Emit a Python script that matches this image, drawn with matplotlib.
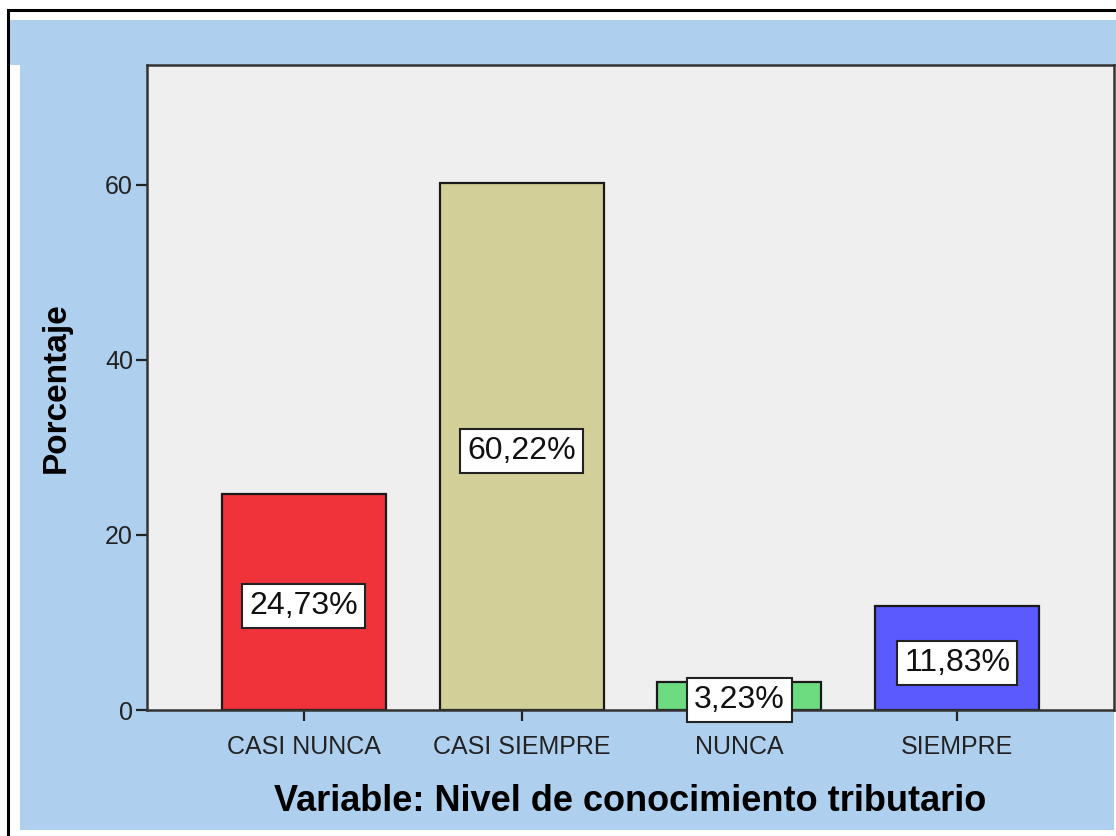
import matplotlib
matplotlib.use("Agg")
import matplotlib.pyplot as plt
from matplotlib.patches import Rectangle
from matplotlib.lines import Line2D

categories = ["CASI NUNCA", "CASI SIEMPRE", "NUNCA", "SIEMPRE"]
values = [24.73, 60.22, 3.23, 11.83]
labels = ["24,73%", "60,22%", "3,23%", "11,83%"]
colors = ["#F0323A", "#D3CF98", "#6DDB80", "#5A5AFF"]
yticks = [0, 20, 40, 60]

plt.rcParams['font.family'] = ['Liberation Sans', 'DejaVu Sans']

W, H = 1116, 836
fig = plt.figure(figsize=(W / 100, H / 100), dpi=100)
fig.patch.set_facecolor("white")

def fx(x):
    return x / W

def fy(y):
    return 1 - y / H

# light blue panel
fig.add_artist(Rectangle((fx(20), fy(830)), fx(1114) - fx(20), fy(20) - fy(830),
                         transform=fig.transFigure, facecolor="#AECFEE", edgecolor="none", zorder=0))
fig.add_artist(Rectangle((fx(10), fy(65)), fx(1116) - fx(10), fy(20) - fy(65),
                         transform=fig.transFigure, facecolor="#AECFEE", edgecolor="none", zorder=0))
# outer border (left and top)
fig.add_artist(Line2D([fx(8), fx(8)], [fy(834), fy(10)], transform=fig.transFigure, color="black", lw=2.2))
fig.add_artist(Line2D([fx(8), fx(1116)], [fy(10), fy(10)], transform=fig.transFigure, color="black", lw=2.2))

ax = fig.add_axes([fx(147), fy(710), fx(1114) - fx(147), fy(65) - fy(710)])
ax.set_facecolor("#EFEFEF")
x = list(range(len(categories)))
ax.bar(x, values, width=0.753, color=colors, edgecolor="#1a1a1a", linewidth=1.6, zorder=2)

for xi, v, lab in zip(x, values, labels):
    ax.text(xi, v / 2 - 0.5, lab, ha="center", va="center", fontsize=23, color="#111111", zorder=3,
            bbox=dict(boxstyle="square,pad=0.22", facecolor="white", edgecolor="#222222", linewidth=1.5))

ax.set_xlim(-0.72, 3.72)
ax.set_ylim(0, 73.7)
ax.set_xticks(x)
ax.set_xticklabels(categories, fontsize=18, color="#222222")
ax.set_yticks(yticks)
ax.set_yticklabels([str(t) for t in yticks], fontsize=18, color="#222222")
ax.tick_params(axis="both", length=8, width=1.6, color="#222222")
ax.tick_params(axis="x", pad=10)
ax.tick_params(axis="y", pad=2)
for s in ax.spines.values():
    s.set_color("#333333")
    s.set_linewidth(1.8)

ax.set_ylabel("Porcentaje", fontsize=24, fontweight="bold", labelpad=24)
ax.set_xlabel("Variable: Nivel de conocimiento tributario", fontsize=26, fontweight="bold", labelpad=18)

fig.savefig("out.png", dpi=100, facecolor=fig.get_facecolor())
